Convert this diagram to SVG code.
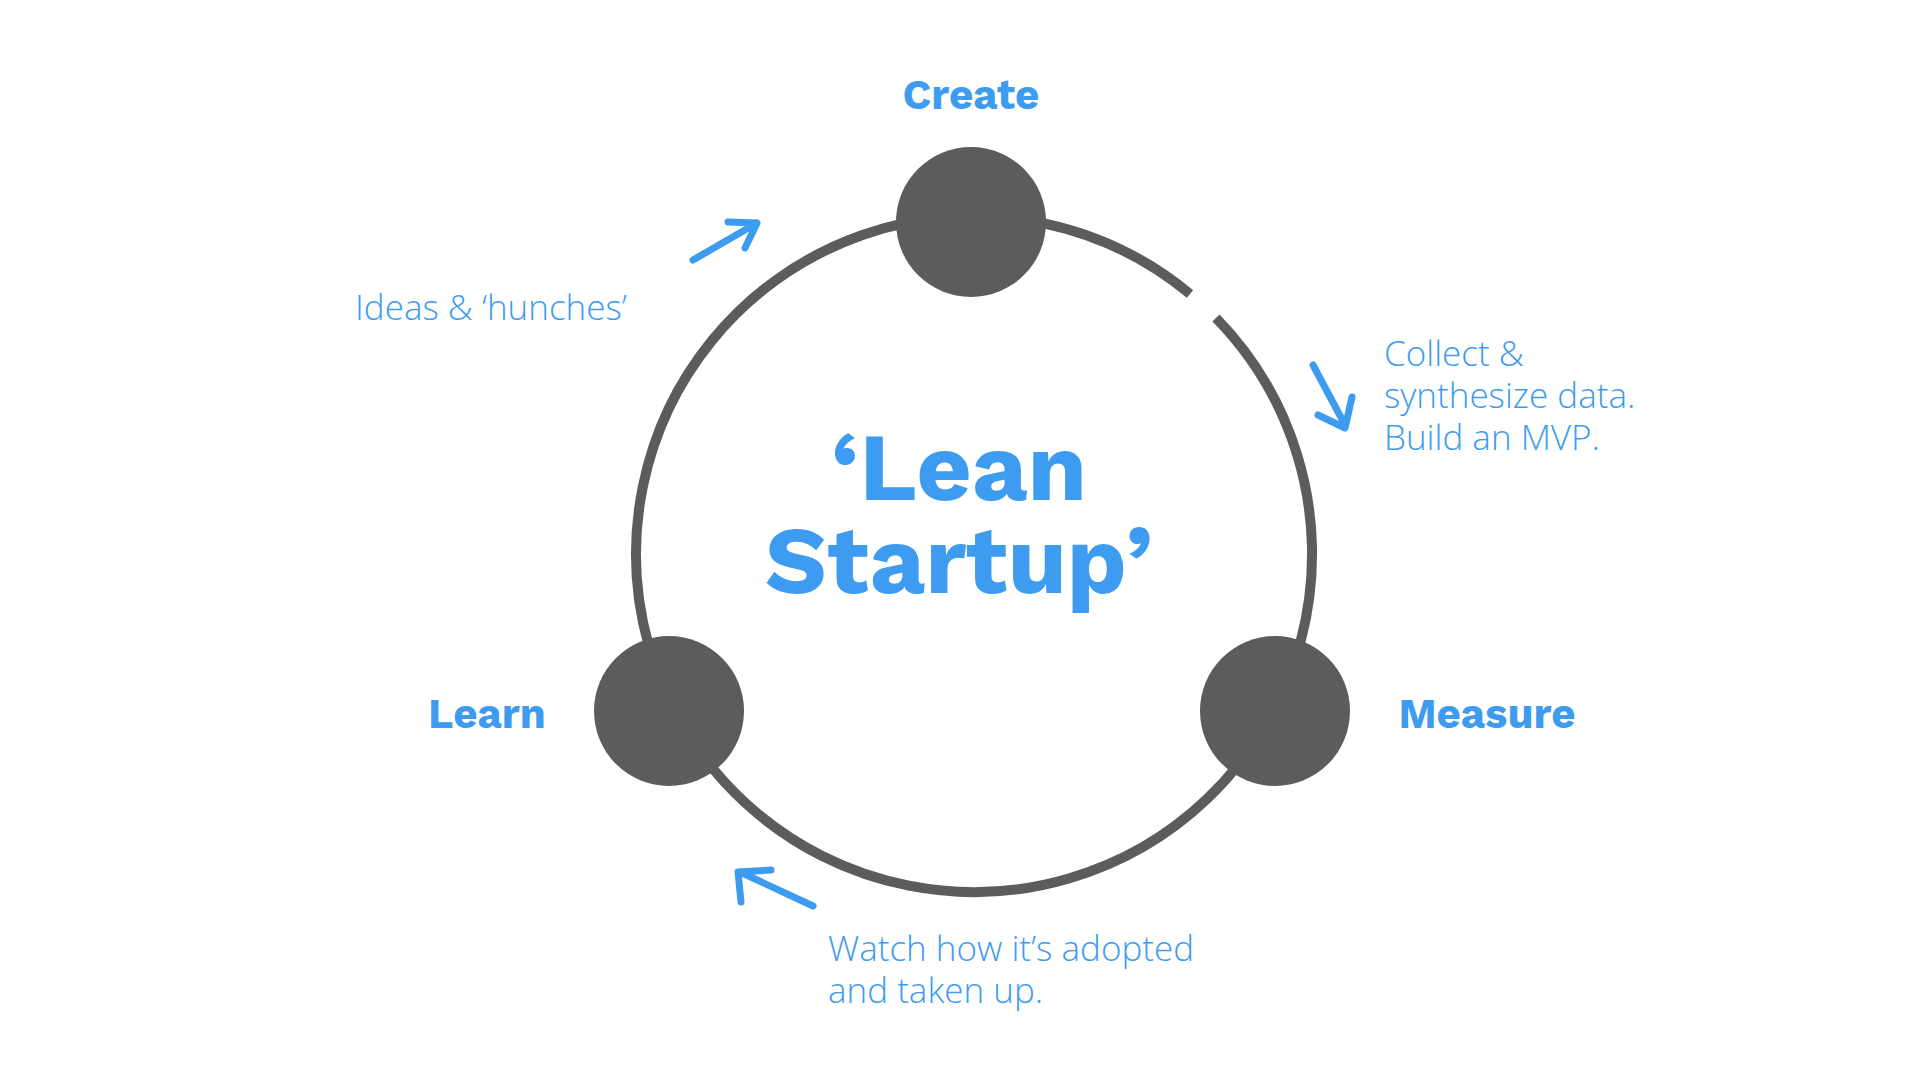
<svg xmlns="http://www.w3.org/2000/svg" width="1920" height="1080" viewBox="0 0 1920 1080">
<defs><style>
.lbl{font-family:"Work Sans","Open Sans","Liberation Sans",sans-serif;font-weight:bold;fill:#3d9bf0;}
.note{font-family:"Open Sans","Liberation Sans",sans-serif;font-weight:300;fill:#3d9bf0;font-size:35px;}
.node{fill:#5c5c5c;}
.arr{fill:none;stroke:#3d9bf0;stroke-width:7;stroke-linecap:round;stroke-linejoin:round;}
</style></defs>
<rect width="1920" height="1080" fill="#fff"/>
<g id="connectors">
<path d="M1216 318 A338 338 0 1 1 1190 294" fill="none" stroke="#5c5c5c" stroke-width="10"/>
<path class="arr" d="M693 260 L757 223 M728 222 L757 223 L745 248"/>
<path class="arr" d="M1313 365 L1345 425 M1318 415 L1345 428 L1352 397"/>
<path class="arr" d="M813 906 L740 872 M741 902 L738 872 L771 870"/>
</g>
<g id="create"><circle class="node" cx="971" cy="222" r="75"/><text class="lbl" x="971" y="109" font-size="42" text-anchor="middle">Create</text></g>
<g id="learn"><circle class="node" cx="669" cy="711" r="75"/><text class="lbl" x="487" y="728" font-size="42" text-anchor="middle">Learn</text></g>
<g id="measure"><circle class="node" cx="1275" cy="711" r="75"/><text class="lbl" x="1487" y="728" font-size="42" text-anchor="middle">Measure</text></g>
<g id="title"><text class="lbl" font-size="96" text-anchor="middle"><tspan x="959" y="500">‘Lean</tspan><tspan x="959" y="593">Startup’</tspan></text></g>
<g id="notes">
<text class="note" x="355" y="320">Ideas &amp; ‘hunches’</text>
<text class="note"><tspan x="1384" y="366">Collect &amp;</tspan><tspan x="1384" y="408">synthesize data.</tspan><tspan x="1384" y="450">Build an MVP.</tspan></text>
<text class="note"><tspan x="828" y="961">Watch how it’s adopted</tspan><tspan x="828" y="1003">and taken up.</tspan></text>
</g>
</svg>
